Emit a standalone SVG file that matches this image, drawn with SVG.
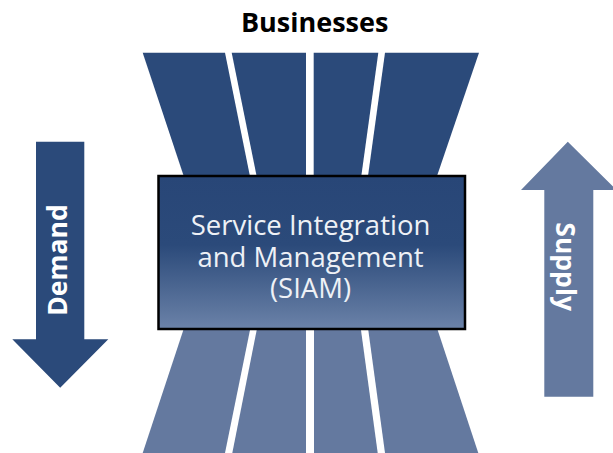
<svg xmlns="http://www.w3.org/2000/svg" width="613" height="453" viewBox="0 0 613 453">
  <style>
    .dark { fill: #2b4a7a; }
    .light { fill: #64799f; }
    .label { font-family: "Open Sans", "Noto Sans", sans-serif; }
    .bold { font-weight: bold; font-size: 26.5px; }
    .title { font-size: 27px; }
    .core { font-size: 27.5px; fill: #eef1f6; }
  </style>
  <defs>
    <linearGradient id="coreFill" x1="0" y1="0" x2="0" y2="1">
      <stop offset="0" stop-color="#284677"/>
      <stop offset="0.45" stop-color="#2b4a7a"/>
      <stop offset="1" stop-color="#6b82a8"/>
    </linearGradient>
  </defs>
  <rect width="613" height="453" fill="#ffffff"/>

  <!-- upper funnel strips -->
  <g id="upper-strips" class="dark">
    <polygon points="142.7,52.7 225,52.7 249.9,176 183.7,176"/>
    <polygon points="231.7,52.7 306,52.7 306,176 256.6,176"/>
    <polygon points="313.7,52.7 378.3,52.7 361.3,176 313.7,176"/>
    <polygon points="385,52.7 479,52.7 437,176 368,176"/>
  </g>

  <!-- lower funnel strips -->
  <g id="lower-strips" class="light">
    <polygon points="184,328 250.4,328 225,453 142.7,453"/>
    <polygon points="257.1,328 306,328 306,453 232.3,453"/>
    <polygon points="314,328 360.7,328 377.7,453 314,453"/>
    <polygon points="368,328 437,328 478.3,453 385,453"/>
  </g>

  <!-- central box -->
  <g id="siam">
    <rect x="158.5" y="176" width="306.5" height="153" fill="url(#coreFill)" stroke="#000000" stroke-width="2.5"/>
    <text class="label core" text-anchor="middle" x="310.5" y="235">Service Integration</text>
    <text class="label core" text-anchor="middle" x="310.5" y="266.5">and Management</text>
    <text class="label core" text-anchor="middle" x="310.5" y="298">(SIAM)</text>
  </g>

  <!-- title -->
  <g id="businesses">
    <text class="label bold title" text-anchor="middle" x="314.7" y="31.5" fill="#000000">Businesses</text>
  </g>

  <!-- demand arrow -->
  <g id="demand">
    <polygon class="dark" points="36,141.7 84.3,141.7 84.3,339.3 108.3,339.3 60.2,387.7 12.3,339.3 36,339.3"/>
    <text class="label bold" text-anchor="middle" fill="#ffffff" transform="translate(67,260) rotate(-90)">Demand</text>
  </g>

  <!-- supply arrow -->
  <g id="supply">
    <polygon class="light" points="544.3,396.7 593.3,396.7 593.3,190 616.6,190 567.8,141.7 521,190 544.3,190"/>
    <text class="label bold" text-anchor="middle" fill="#ffffff" transform="translate(556,266.7) rotate(90)">Supply</text>
  </g>
</svg>
